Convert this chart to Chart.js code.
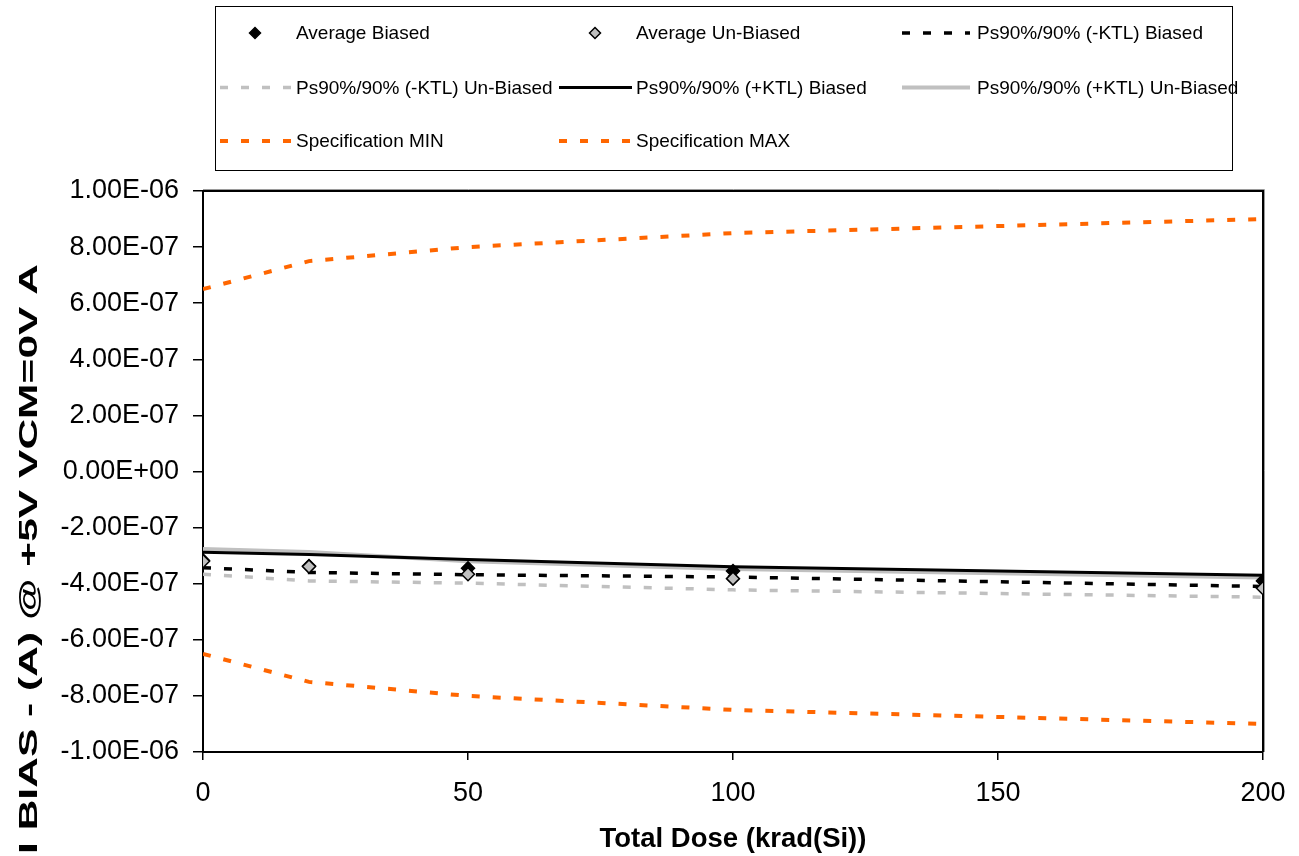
<!DOCTYPE html>
<html>
<head>
<meta charset="utf-8">
<script src="https://cdn.jsdelivr.net/npm/chart.js@4.4.1/dist/chart.umd.min.js"></script>
<style>
    html, body { margin: 0; padding: 0; background: #fff; }
    #wrap { width: 1299px; height: 856px; }
</style>
</head>
<body>
<div id="wrap"><canvas id="doseChart" width="1299" height="856"></canvas></div>
<script>
const doses = [0, 20, 50, 100, 200];

const avgBiased = [-3.17e-7, -3.37e-7, -3.45e-7, -3.55e-7, -3.90e-7];
const avgUnbiased = [-3.20e-7, -3.39e-7, -3.66e-7, -3.82e-7, -4.16e-7];
const ktlMinusBiased = [-3.43e-7, -3.60e-7, -3.68e-7, -3.76e-7, -4.10e-7];
const ktlMinusUnbiased = [-3.66e-7, -3.90e-7, -3.98e-7, -4.22e-7, -4.48e-7];
const ktlPlusBiased = [-2.88e-7, -2.96e-7, -3.14e-7, -3.40e-7, -3.70e-7];
const ktlPlusUnbiased = [-2.76e-7, -2.87e-7, -3.20e-7, -3.48e-7, -3.78e-7];
const specMin = [-6.5e-7, -7.5e-7, -8.0e-7, -8.5e-7, -9.0e-7];
const specMax = [6.5e-7, 7.5e-7, 8.0e-7, 8.5e-7, 9.0e-7];

const xTickValues = [0, 50, 100, 150, 200];
const yTickValues = [-1e-6, -8e-7, -6e-7, -4e-7, -2e-7, 0, 2e-7, 4e-7, 6e-7, 8e-7, 1e-6];
const yTickLabels = ["-1.00E-06", "-8.00E-07", "-6.00E-07", "-4.00E-07", "-2.00E-07", "0.00E+00",
    "2.00E-07", "4.00E-07", "6.00E-07", "8.00E-07", "1.00E-06"];

const xTitle = "Total Dose (krad(Si))";
const yTitle = "I BIAS - (A) @ +5V VCM=0V A";

const orange = "#FF6600";
const gray = "#C0C0C0";
const dash = [8, 13];

function points(values) {
    return doses.map((dose, i) => ({ x: dose, y: values[i] }));
}

function lineSeries(label, values, color, width, borderDash, order) {
    return {
        label,
        data: points(values),
        borderColor: color,
        backgroundColor: color,
        borderWidth: width,
        borderDash,
        pointRadius: 0,
        pointHoverRadius: 0,
        tension: 0,
        order,
    };
}

function markerSeries(label, values, fill, order) {
    return {
        label,
        data: points(values),
        showLine: false,
        pointStyle: "rectRot",
        pointRadius: 6.5,
        pointBorderWidth: 1.5,
        pointBackgroundColor: fill,
        pointBorderColor: "#000",
        borderColor: "#000",
        backgroundColor: fill,
        order,
    };
}

// boxed 3-column legend, drawn in the top padding
const legendBox = { left: 215, top: 6, right: 1232, bottom: 170 };
const legendSample = [[220, 291], [559, 632], [902, 970]];
const legendText = [296, 636, 977];
const legendRows = [33, 87.5, 141];

function drawDiamond(ctx, x, y, r) {
    ctx.beginPath();
    ctx.moveTo(x - r, y);
    ctx.lineTo(x, y - r);
    ctx.lineTo(x + r, y);
    ctx.lineTo(x, y + r);
    ctx.closePath();
}

const gridLegend = {
    id: "gridLegend",
    afterDraw(chart) {
        const ctx = chart.ctx;
        ctx.save();
        ctx.strokeStyle = "#000";
        ctx.lineWidth = 1;
        ctx.strokeRect(legendBox.left + 0.5, legendBox.top + 0.5,
            legendBox.right - legendBox.left, legendBox.bottom - legendBox.top);

        chart.data.datasets.forEach((ds, i) => {
            const col = i % 3;
            const row = Math.floor(i / 3);
            const [x0, x1] = legendSample[col];
            const y = legendRows[row];

            if (ds.showLine !== false) {
                ctx.beginPath();
                ctx.setLineDash(ds.borderDash || []);
                ctx.lineWidth = ds.borderWidth;
                ctx.strokeStyle = ds.borderColor;
                ctx.moveTo(x0, y);
                ctx.lineTo(x1, y);
                ctx.stroke();
                ctx.setLineDash([]);
            }
            if (ds.pointRadius > 0) {
                drawDiamond(ctx, (x0 + x1) / 2 - 0.5, y, 5.5);
                ctx.fillStyle = ds.pointBackgroundColor;
                ctx.fill();
                ctx.lineWidth = ds.pointBorderWidth;
                ctx.strokeStyle = ds.pointBorderColor;
                ctx.stroke();
            }

            ctx.fillStyle = "#000";
            ctx.font = '19px "Liberation Sans", Arial, sans-serif';
            ctx.textBaseline = "middle";
            ctx.textAlign = "left";
            ctx.fillText(ds.label, legendText[col], y + 1);
        });
        ctx.restore();
    },
};

// the y title in the original runs long and low, stretched along its length
const yTitlePlugin = {
    id: "yTitlePlugin",
    afterDraw(chart) {
        const ctx = chart.ctx;
        ctx.save();
        ctx.font = 'bold 26px "Liberation Sans", Arial, sans-serif';
        const natural = ctx.measureText(yTitle).width;
        ctx.translate(30, 559);
        ctx.rotate(-Math.PI / 2);
        ctx.scale(590 / natural, 1);
        ctx.fillStyle = "#000";
        ctx.textAlign = "center";
        ctx.textBaseline = "middle";
        ctx.fillText(yTitle, 0, 0);
        ctx.restore();
    },
};

const plotFrame = {
    id: "plotFrame",
    beforeDatasetsDraw(chart) {
        const { left, top, right, bottom } = chart.chartArea;
        const ctx = chart.ctx;
        ctx.save();
        ctx.strokeStyle = "#9a9a9a";
        ctx.lineWidth = 1;
        ctx.beginPath();
        ctx.moveTo(left, top - 1.5);
        ctx.lineTo(right + 1.5, top - 1.5);
        ctx.lineTo(right + 1.5, bottom);
        ctx.stroke();
        ctx.strokeStyle = "#000";
        ctx.lineWidth = 2;
        ctx.beginPath();
        ctx.moveTo(left, top);
        ctx.lineTo(right, top);
        ctx.lineTo(right, bottom);
        ctx.stroke();
        ctx.restore();
    },
};

Chart.defaults.font.family = '"Liberation Sans", Arial, sans-serif';
Chart.defaults.color = "#000";

const chart = new Chart(document.getElementById("doseChart"), {
    type: "line",
    data: {
        datasets: [
            markerSeries("Average Biased", avgBiased, "#000", 1),
            markerSeries("Average Un-Biased", avgUnbiased, gray, 0),
            lineSeries("Ps90%/90% (-KTL) Biased", ktlMinusBiased, "#000", 3.5, dash, 4),
            lineSeries("Ps90%/90% (-KTL) Un-Biased", ktlMinusUnbiased, gray, 3.5, dash, 5),
            lineSeries("Ps90%/90% (+KTL) Biased", ktlPlusBiased, "#000", 3, [], 2),
            lineSeries("Ps90%/90% (+KTL) Un-Biased", ktlPlusUnbiased, gray, 4, [], 3),
            lineSeries("Specification MIN", specMin, orange, 4, dash, 6),
            lineSeries("Specification MAX", specMax, orange, 4, dash, 7),
        ],
    },
    options: {
        responsive: false,
        animation: false,
        events: [],
        layout: {
            autoPadding: false,
            padding: { top: 191, right: 36, left: 0, bottom: 0 },
        },
        plugins: {
            legend: { display: false },
            tooltip: { enabled: false },
        },
        scales: {
            x: {
                type: "linear",
                min: 0,
                max: 200,
                afterBuildTicks(scale) {
                    scale.ticks = xTickValues.map((value) => ({ value }));
                },
                afterFit(scale) {
                    scale.height = 104;
                    scale.paddingLeft = 10;
                    scale.paddingRight = 24;
                },
                ticks: {
                    font: { size: 27 },
                    color: "#000",
                    padding: 17,
                    maxRotation: 0,
                },
                grid: {
                    drawOnChartArea: false,
                    tickLength: 8,
                    color: "#000",
                    lineWidth: 1.5,
                },
                border: { display: true, color: "#000", width: 2 },
                title: {
                    display: true,
                    text: xTitle,
                    font: { size: 27.5, weight: "bold" },
                    color: "#000",
                    padding: { top: 0, bottom: 0 },
                },
            },
            y: {
                type: "linear",
                min: -1e-6,
                max: 1e-6,
                afterBuildTicks(scale) {
                    scale.ticks = yTickValues.map((value) => ({ value }));
                },
                afterFit(scale) {
                    scale.width = 203;
                },
                ticks: {
                    font: { size: 27 },
                    color: "#000",
                    padding: 14,
                    callback: (value, index) => yTickLabels[index],
                },
                grid: {
                    drawOnChartArea: false,
                    tickLength: 10,
                    color: "#000",
                    lineWidth: 1.5,
                },
                border: { display: true, color: "#000", width: 2 },
                title: { display: false, text: yTitle },
            },
        },
    },
    plugins: [gridLegend, yTitlePlugin, plotFrame],
});
</script>
</body>
</html>
